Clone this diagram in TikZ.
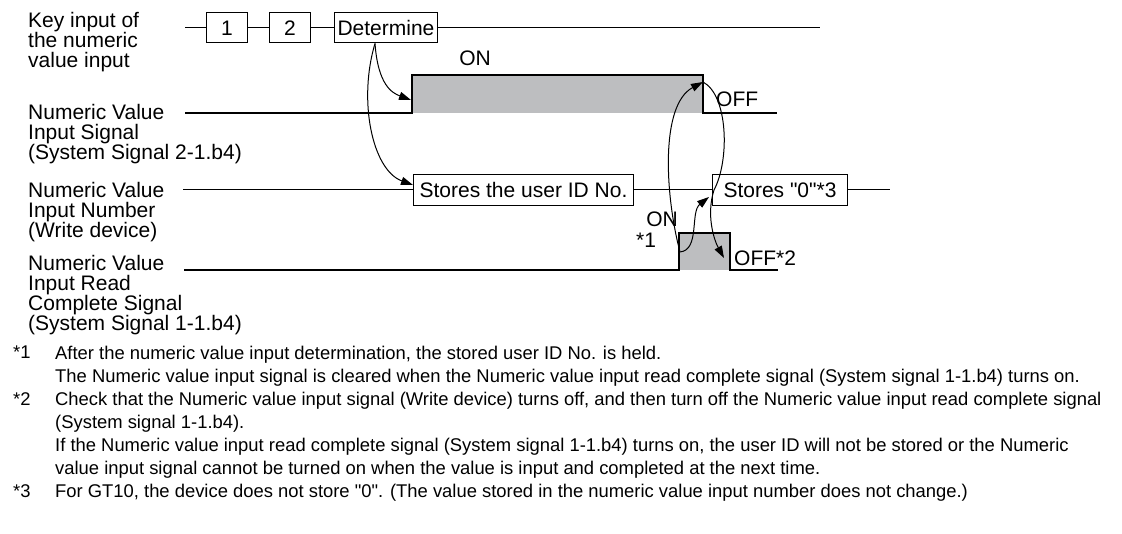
\documentclass[tikz,border=0pt]{standalone}
\usepackage{fontspec}
\newfontfamily\arialfont{Liberation Sans}
\usetikzlibrary{arrows.meta,positioning}
\definecolor{pulsegray}{RGB}{189,190,192}
\newcommand\lblfont{\arialfont\fontsize{21}{20}\selectfont\lineskiplimit=-5pt}
\newcommand\notefont{\arialfont\fontsize{18.4}{23}\selectfont}

\begin{document}
\begin{tikzpicture}[x=1pt,y=-1pt,
  lbl/.style={anchor=north west,align=left,inner sep=0pt,font=\lblfont},
  keybox/.style={draw,line width=1pt,minimum width=41pt,minimum height=30pt,
                 inner sep=0pt,font=\lblfont},
  valbox/.style={draw,line width=1pt,minimum height=31pt,inner sep=0pt,
                 anchor=west,font=\lblfont},
  wave/.style={line width=2pt},
  level/.style={line width=1pt},
  pulse/.style={fill=pulsegray},
  tag/.style={inner sep=0pt,font=\lblfont},
  arr/.style={-{Triangle[length=12pt,width=8pt]},line width=1pt},
  note/.style={anchor=north west,align=left,inner sep=0pt,font=\notefont}
]
\useasboundingbox (0,0) rectangle (1122,534);

% signal names
\node[lbl] (keylbl) at (28,12)  {Key input of\\the numeric\\value input};
\node[lbl] (inlbl)  at (28,104) {Numeric Value\\Input Signal\\(System Signal 2-1.b4)};
\node[lbl] (numlbl) at (28,182) {Numeric Value\\Input Number\\(Write device)};
\node[lbl] (rdlbl)  at (28,255) {Numeric Value\\Input Read\\Complete Signal\\(System Signal 1-1.b4)};

% key input
\coordinate (keystart) at (185,28);
\coordinate (keyend)   at (820,28);
\node[keybox] (key1) at (227,28) {1};
\node[keybox] (key2) at (290,28) {2};
\node[keybox,anchor=west,minimum width=103pt] (keydet) at (334,28) {Determine};
\draw[level] (keystart) -- (key1) -- (key2) -- (keydet) -- (keyend);

% input signal
\fill[pulse] (412,75) rectangle (703,113);
\draw[wave] (185,113) -- (412,113) -- (412,75) -- (703,75) -- (703,113) -- (777,113);
\node[tag] (inon) at (475,58) {ON};
\node[tag,anchor=west] (inoff) at (716,99) {OFF};

% input number
\coordinate (numstart) at (183,190);
\coordinate (numend)   at (890,190);
\node[valbox,minimum width=220pt] (userid) at (413,190) {Stores the user ID No.};
\node[valbox,minimum width=135pt] (zero)   at (712,190) {Stores "0"*3};
\draw[level] (numstart) -- (userid) -- (zero) -- (numend);

% read complete signal
\fill[pulse] (679,233) rectangle (730,270);
\draw[wave] (184,270) -- (679,270) -- (679,233) -- (730,233) -- (730,270) -- (778,270);
\node[tag] (rdon)  at (662,219) {ON};
\node[tag] (mark1) at (646,240) {*1};
\node[tag,anchor=west] (rdoff) at (734,258) {OFF*2};

% timing arrows
\coordinate (detfoot) at ([xshift=-11pt]keydet.south);
\coordinate (inrise)  at (411,100);
\coordinate (infall)  at (703,82);
\coordinate (rdrise)  at (680,252);
\coordinate (rdtip)   at (724,258);
\draw[arr] (detfoot) .. controls (378,85) and (392,93) .. (inrise);
\draw[arr] (detfoot) .. controls (358,100) and (372,170) .. ([yshift=5pt]userid.west);
\draw[arr] (rdrise) .. controls (665,195) and (660,105) .. (infall);
\draw[arr] (rdrise) .. controls (700,250) and (690,212) .. ([xshift=-3pt,yshift=-7pt]zero.west);
\draw[arr] (infall) .. controls (728,95) and (730,160) .. (714,190)
                    .. controls (706,215) and (714,240) .. (rdtip);

% notes
\node[note] (n1mark) at (13,346) {*1};
\node[note] (n1)     at (55,346) {After the numeric value input determination, the stored user ID No. is held.\\
The Numeric value input signal is cleared when the Numeric value input read complete signal (System signal 1-1.b4) turns on.};
\node[note] (n2mark) at (13,392) {*2};
\node[note] (n2)     at (55,392) {Check that the Numeric value input signal (Write device) turns off, and then turn off the Numeric value input read complete signal\\
(System signal 1-1.b4).\\
If the Numeric value input read complete signal (System signal 1-1.b4) turns on, the user ID will not be stored or the Numeric\\
value input signal cannot be turned on when the value is input and completed at the next time.};
\node[note] (n3mark) at (13,484) {*3};
\node[note] (n3)     at (55,484) {For GT10, the device does not store "0". (The value stored in the numeric value input number does not change.)};
\end{tikzpicture}
\end{document}
